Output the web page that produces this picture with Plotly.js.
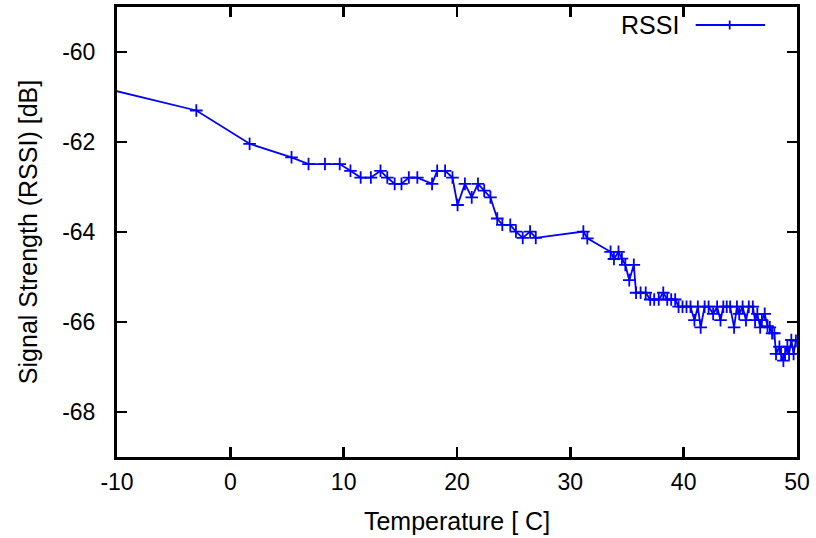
<!DOCTYPE html>
<html>
<head>
<meta charset="utf-8">
<script src="https://cdn.plot.ly/plotly-3.0.1.min.js"></script>
<style>html,body{margin:0;padding:0;background:#fff;}#chart{width:816px;height:538px;}</style>
</head>
<body>
<div id="chart"></div>
<script>
var temperature = [-11, -3.0, 1.7, 5.4, 6.9, 8.35, 9.65, 10.6, 11.5, 12.4, 13.25, 13.85, 14.5, 15.1, 15.75, 16.5, 17.8, 18.25, 18.95, 19.6, 20.05, 20.7, 21.3, 21.85, 22.4, 22.95, 23.55, 24.0, 24.7, 25.2, 25.8, 26.45, 26.95,
  31.15, 31.5, 33.55, 33.85, 34.25, 34.55, 34.85, 35.2, 35.6, 35.8, 36.2, 36.65, 37.05, 37.4, 37.8, 38.2, 38.55, 38.9, 39.25, 39.55, 39.9, 40.25, 40.6, 40.95, 41.25, 41.5, 41.85, 42.2, 42.6, 42.95, 43.25, 43.5, 43.8, 44.1, 44.45, 44.7, 44.9, 45.2, 45.5, 45.75, 46.1, 46.3, 46.5, 46.75, 46.9, 47.15, 47.4, 47.6, 47.8, 48.0, 48.15, 48.45, 48.6, 48.8, 48.95, 49.15, 49.3, 49.5, 49.7, 49.9];
var rssi = [-60.81, -61.3, -62.04, -62.34, -62.49, -62.49, -62.49, -62.64, -62.79, -62.79, -62.64, -62.79, -62.93, -62.93, -62.79, -62.79, -62.93, -62.64, -62.64, -62.79, -63.4, -62.93, -63.23, -62.93, -63.08, -63.23, -63.7, -63.84, -63.84, -63.99, -64.13, -63.99, -64.13,
  -63.99, -64.14, -64.44, -64.6, -64.44, -64.59, -64.73, -65.07, -64.73, -65.35, -65.35, -65.35, -65.5, -65.5, -65.5, -65.35, -65.5, -65.5, -65.5, -65.66, -65.66, -65.66, -65.66, -65.96, -65.66, -66.12, -65.66, -65.66, -65.82, -65.66, -65.96, -65.66, -65.66, -65.66, -66.12, -65.66, -65.82, -65.66, -65.96, -65.66, -65.66, -65.96, -65.82, -66.12, -65.96, -65.82, -66.09, -66.12, -66.25, -66.25, -66.71, -66.55, -66.71, -66.86, -66.71, -66.55, -66.71, -66.4, -66.71, -66.42];
var xTicks = [-10, 0, 10, 20, 30, 40, 50];
var yTicks = [-68, -66, -64, -62, -60];
var seriesName = 'RSSI';

var blue = '#0000ff';
var fontFam = 'Liberation Sans, Arial, sans-serif';

var trace = {
  x: temperature, y: rssi, type: 'scatter', mode: 'lines+markers', name: seriesName,
  line: {color: blue, width: 1.8},
  marker: {symbol: 'cross-thin', size: 9, color: blue, line: {color: blue, width: 1.8}},
  cliponaxis: true, showlegend: false
};

var axisCommon = {
  showline: true, linecolor: '#000', linewidth: 3, mirror: 'allticks',
  ticks: 'inside', ticklen: 10, tickwidth: 2.5, tickcolor: '#000',
  showgrid: false, zeroline: false,
  tickfont: {family: fontFam, size: 23, color: '#000'}
};

var layout = {
  width: 816, height: 538,
  margin: {l: 117, r: 19, t: 7, b: 81},
  paper_bgcolor: '#fff', plot_bgcolor: '#fff',
  showlegend: false,
  xaxis: Object.assign({}, axisCommon, {
    range: [-10, 50], tickvals: xTicks, ticktext: xTicks.map(String),
    ticklabelstandoff: 2,
    title: {text: 'Temperature [ C]', font: {family: fontFam, size: 25, color: '#000'}, standoff: 19}
  }),
  yaxis: Object.assign({}, axisCommon, {
    range: [-69, -59], tickvals: yTicks, ticktext: yTicks.map(String),
    ticklabelstandoff: 14,
    title: {text: 'Signal Strength (RSSI) [dB]', font: {family: fontFam, size: 25, color: '#000'}, standoff: 18}
  }),
  annotations: [{
    xref: 'paper', yref: 'paper', x: 0.83, y: 0.96, xanchor: 'right', yanchor: 'middle',
    text: seriesName, showarrow: false, font: {family: fontFam, size: 25, color: '#000'}
  }],
  shapes: [
    {type: 'line', xref: 'paper', yref: 'paper', x0: 0.851, x1: 0.953, y0: 0.96, y1: 0.96, line: {color: blue, width: 1.8}},
    {type: 'line', xref: 'paper', yref: 'paper', x0: 0.901, x1: 0.901, y0: 0.95, y1: 0.97, line: {color: blue, width: 1.8}}
  ]
};

Plotly.newPlot('chart', [trace], layout, {displayModeBar: false, staticPlot: true});
</script>
</body>
</html>
